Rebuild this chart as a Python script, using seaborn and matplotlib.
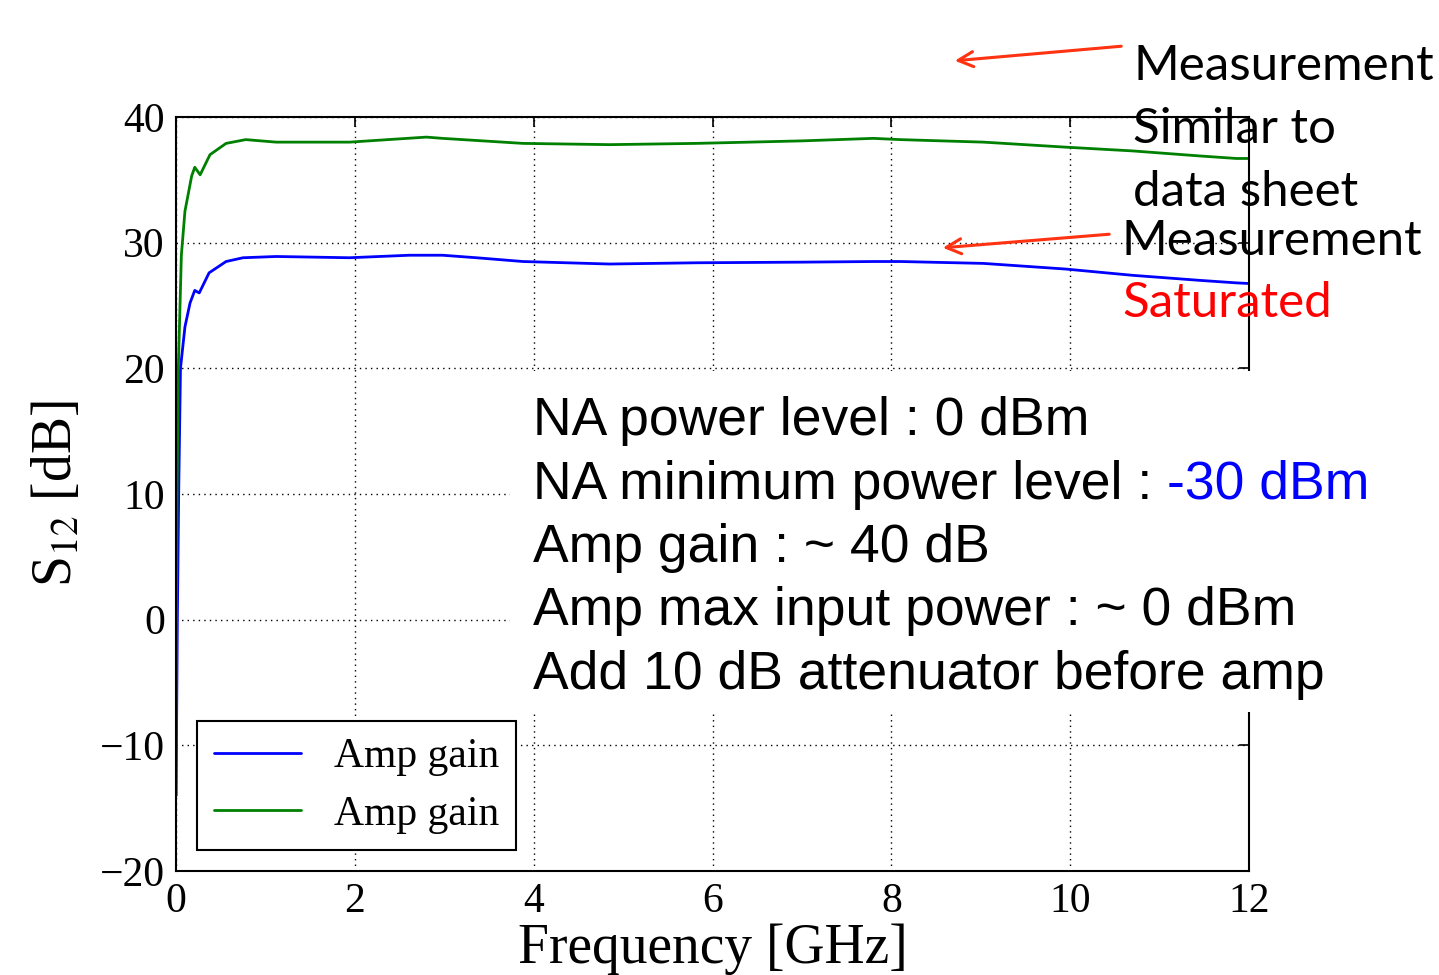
import numpy as np
import pandas as pd
import matplotlib
matplotlib.use("Agg")
import matplotlib.pyplot as plt
import seaborn as sns
from matplotlib.patches import Rectangle

# ---- data ----
freq_blue = [0.0, 0.005, 0.015, 0.03, 0.05, 0.1, 0.157, 0.21, 0.26, 0.37, 0.56, 0.75,
             1.12, 1.94, 2.61, 2.98, 3.36, 3.88, 4.85, 5.82, 7.0, 7.8, 8.1, 9.03,
             9.95, 10.7, 11.45, 11.86, 12.0]
gain_blue = [-14.0, -10.0, 0.0, 10.0, 20.0, 23.3, 25.2, 26.2, 26.0, 27.6, 28.5, 28.8,
             28.9, 28.8, 29.0, 29.0, 28.8, 28.5, 28.3, 28.4, 28.45, 28.5, 28.5, 28.35,
             27.9, 27.4, 27.0, 26.8, 26.75]

freq_green = [0.0, 0.005, 0.012, 0.026, 0.06, 0.1, 0.175, 0.21, 0.27, 0.38, 0.56, 0.78,
              1.12, 1.94, 2.8, 2.98, 3.88, 4.85, 5.82, 7.0, 7.8, 8.1, 9.03, 9.95,
              10.7, 11.45, 11.86, 12.0]
gain_green = [-14.0, 0.0, 10.0, 20.0, 29.0, 32.5, 35.3, 36.0, 35.4, 37.0, 37.9, 38.2,
              38.0, 38.0, 38.4, 38.3, 37.9, 37.8, 37.9, 38.1, 38.3, 38.2, 38.0, 37.6,
              37.3, 36.9, 36.7, 36.7]

series_label = "Amp gain"
x_ticks = [0, 2, 4, 6, 8, 10, 12]
y_ticks = [-20, -10, 0, 10, 20, 30, 40]

box_lines = ["NA power level : 0 dBm",
             "NA minimum power level : ",
             "Amp gain : ~ 40 dB",
             "Amp max input power : ~ 0 dBm",
             "Add 10 dB attenuator before amp"]
box_highlight = "-30 dBm"

df_blue = pd.DataFrame({"freq": freq_blue, "gain": gain_blue})
df_green = pd.DataFrame({"freq": freq_green, "gain": gain_green})

# ---- style ----
sns.set_theme(style="white")
plt.rcParams.update({
    "font.family": ["Liberation Serif", "DejaVu Serif"],
    "mathtext.fontset": "stix",
    "text.color": "black", "axes.labelcolor": "black",
    "xtick.direction": "in", "ytick.direction": "in",
    "xtick.top": True, "ytick.right": True,
    "xtick.major.size": 7, "ytick.major.size": 7,
    "xtick.major.width": 1.2, "ytick.major.width": 1.2,
    "xtick.color": "black", "ytick.color": "black",
    "axes.edgecolor": "black", "axes.linewidth": 1.5,
})

W, H = 1439, 975
fig = plt.figure(figsize=(W / 100, H / 100), dpi=100)
ax = fig.add_axes([176 / W, 1 - 871 / H, (1249 - 176) / W, (871 - 117) / H])

sns.lineplot(data=df_blue, x="freq", y="gain", ax=ax, color="#0000ff", lw=2.0,
             label=series_label, sort=False, estimator=None)
sns.lineplot(data=df_green, x="freq", y="gain", ax=ax, color="#008000", lw=2.0,
             label=series_label, sort=False, estimator=None)

ax.set_xlim(0, 12)
ax.set_ylim(-20, 40)
ax.set_xticks(x_ticks)
ax.set_yticks(y_ticks)
ax.tick_params(labelsize=30, pad=8)
ax.grid(True, color="black", linestyle=(0, (1, 3)), lw=1.0)
ax.set_xlabel("Frequency [GHz]", fontsize=40, labelpad=2, color="black")
ax.set_ylabel(r"S$_{\mathrm{12}}$ [dB]", fontsize=40, labelpad=12, color="black")

leg = ax.legend(loc="lower left", fontsize=30, frameon=True, fancybox=False,
                edgecolor="black", framealpha=1, handlelength=2.1,
                handletextpad=0.8, labelspacing=0.45, borderpad=0.4)
leg.get_frame().set_linewidth(1.5)
for t in leg.get_texts():
    t.set_color("black")

# white panel behind the text block (covers grid and spine)
fig.patches.append(Rectangle((510 / W, 1 - 712 / H), (1390 - 510) / W, (712 - 371) / H,
                             transform=fig.transFigure, facecolor="white",
                             edgecolor="none", zorder=5))

sans = ["Liberation Sans", "DejaVu Sans"]
base0 = 435
step = 63.5
texts = []
for i, line in enumerate(box_lines):
    t = fig.text(533 / W, 1 - (base0 + i * step) / H, line, fontsize=38.5,
                 family=sans, color="black", va="baseline", ha="left", zorder=6)
    texts.append(t)

fig.canvas.draw()
r = fig.canvas.get_renderer()
bb = texts[1].get_window_extent(renderer=r)
fig.text(bb.x1 / W, 1 - (base0 + step) / H, box_highlight, fontsize=38.5, family=sans,
         color="#0000ff", va="baseline", ha="left", zorder=6)

# right-side annotations
cal = ["Lato", "DejaVu Sans"]
fs_r = 35.5
fig.text(1133 / W, 1 - 80 / H, "Measurement", fontsize=fs_r, family=cal,
         color="black", va="baseline", zorder=7)
fig.text(1133 / W, 1 - 143 / H, "Similar to", fontsize=fs_r, family=cal,
         color="black", va="baseline", zorder=7)
fig.text(1133 / W, 1 - 206 / H, "data sheet", fontsize=fs_r, family=cal,
         color="black", va="baseline", zorder=7)
fig.text(1122 / W, 1 - 255 / H, "Measurement", fontsize=fs_r, family=cal,
         color="black", va="baseline", zorder=7)
fig.text(1122 / W, 1 - 317 / H, "Saturated", fontsize=fs_r, family=cal,
         color="#ff0000", va="baseline", zorder=7)

arrow_kw = dict(arrowstyle="->,head_length=0.9,head_width=0.45", color="#ff3311", lw=2.2)
ax.annotate("", xy=(952, H - 61), xytext=(1124, H - 46), xycoords="figure pixels",
            textcoords="figure pixels", arrowprops=arrow_kw, annotation_clip=False)
ax.annotate("", xy=(940, H - 248), xytext=(1112, H - 234), xycoords="figure pixels",
            textcoords="figure pixels", arrowprops=arrow_kw, annotation_clip=False)

fig.savefig("out.png", dpi=100)
